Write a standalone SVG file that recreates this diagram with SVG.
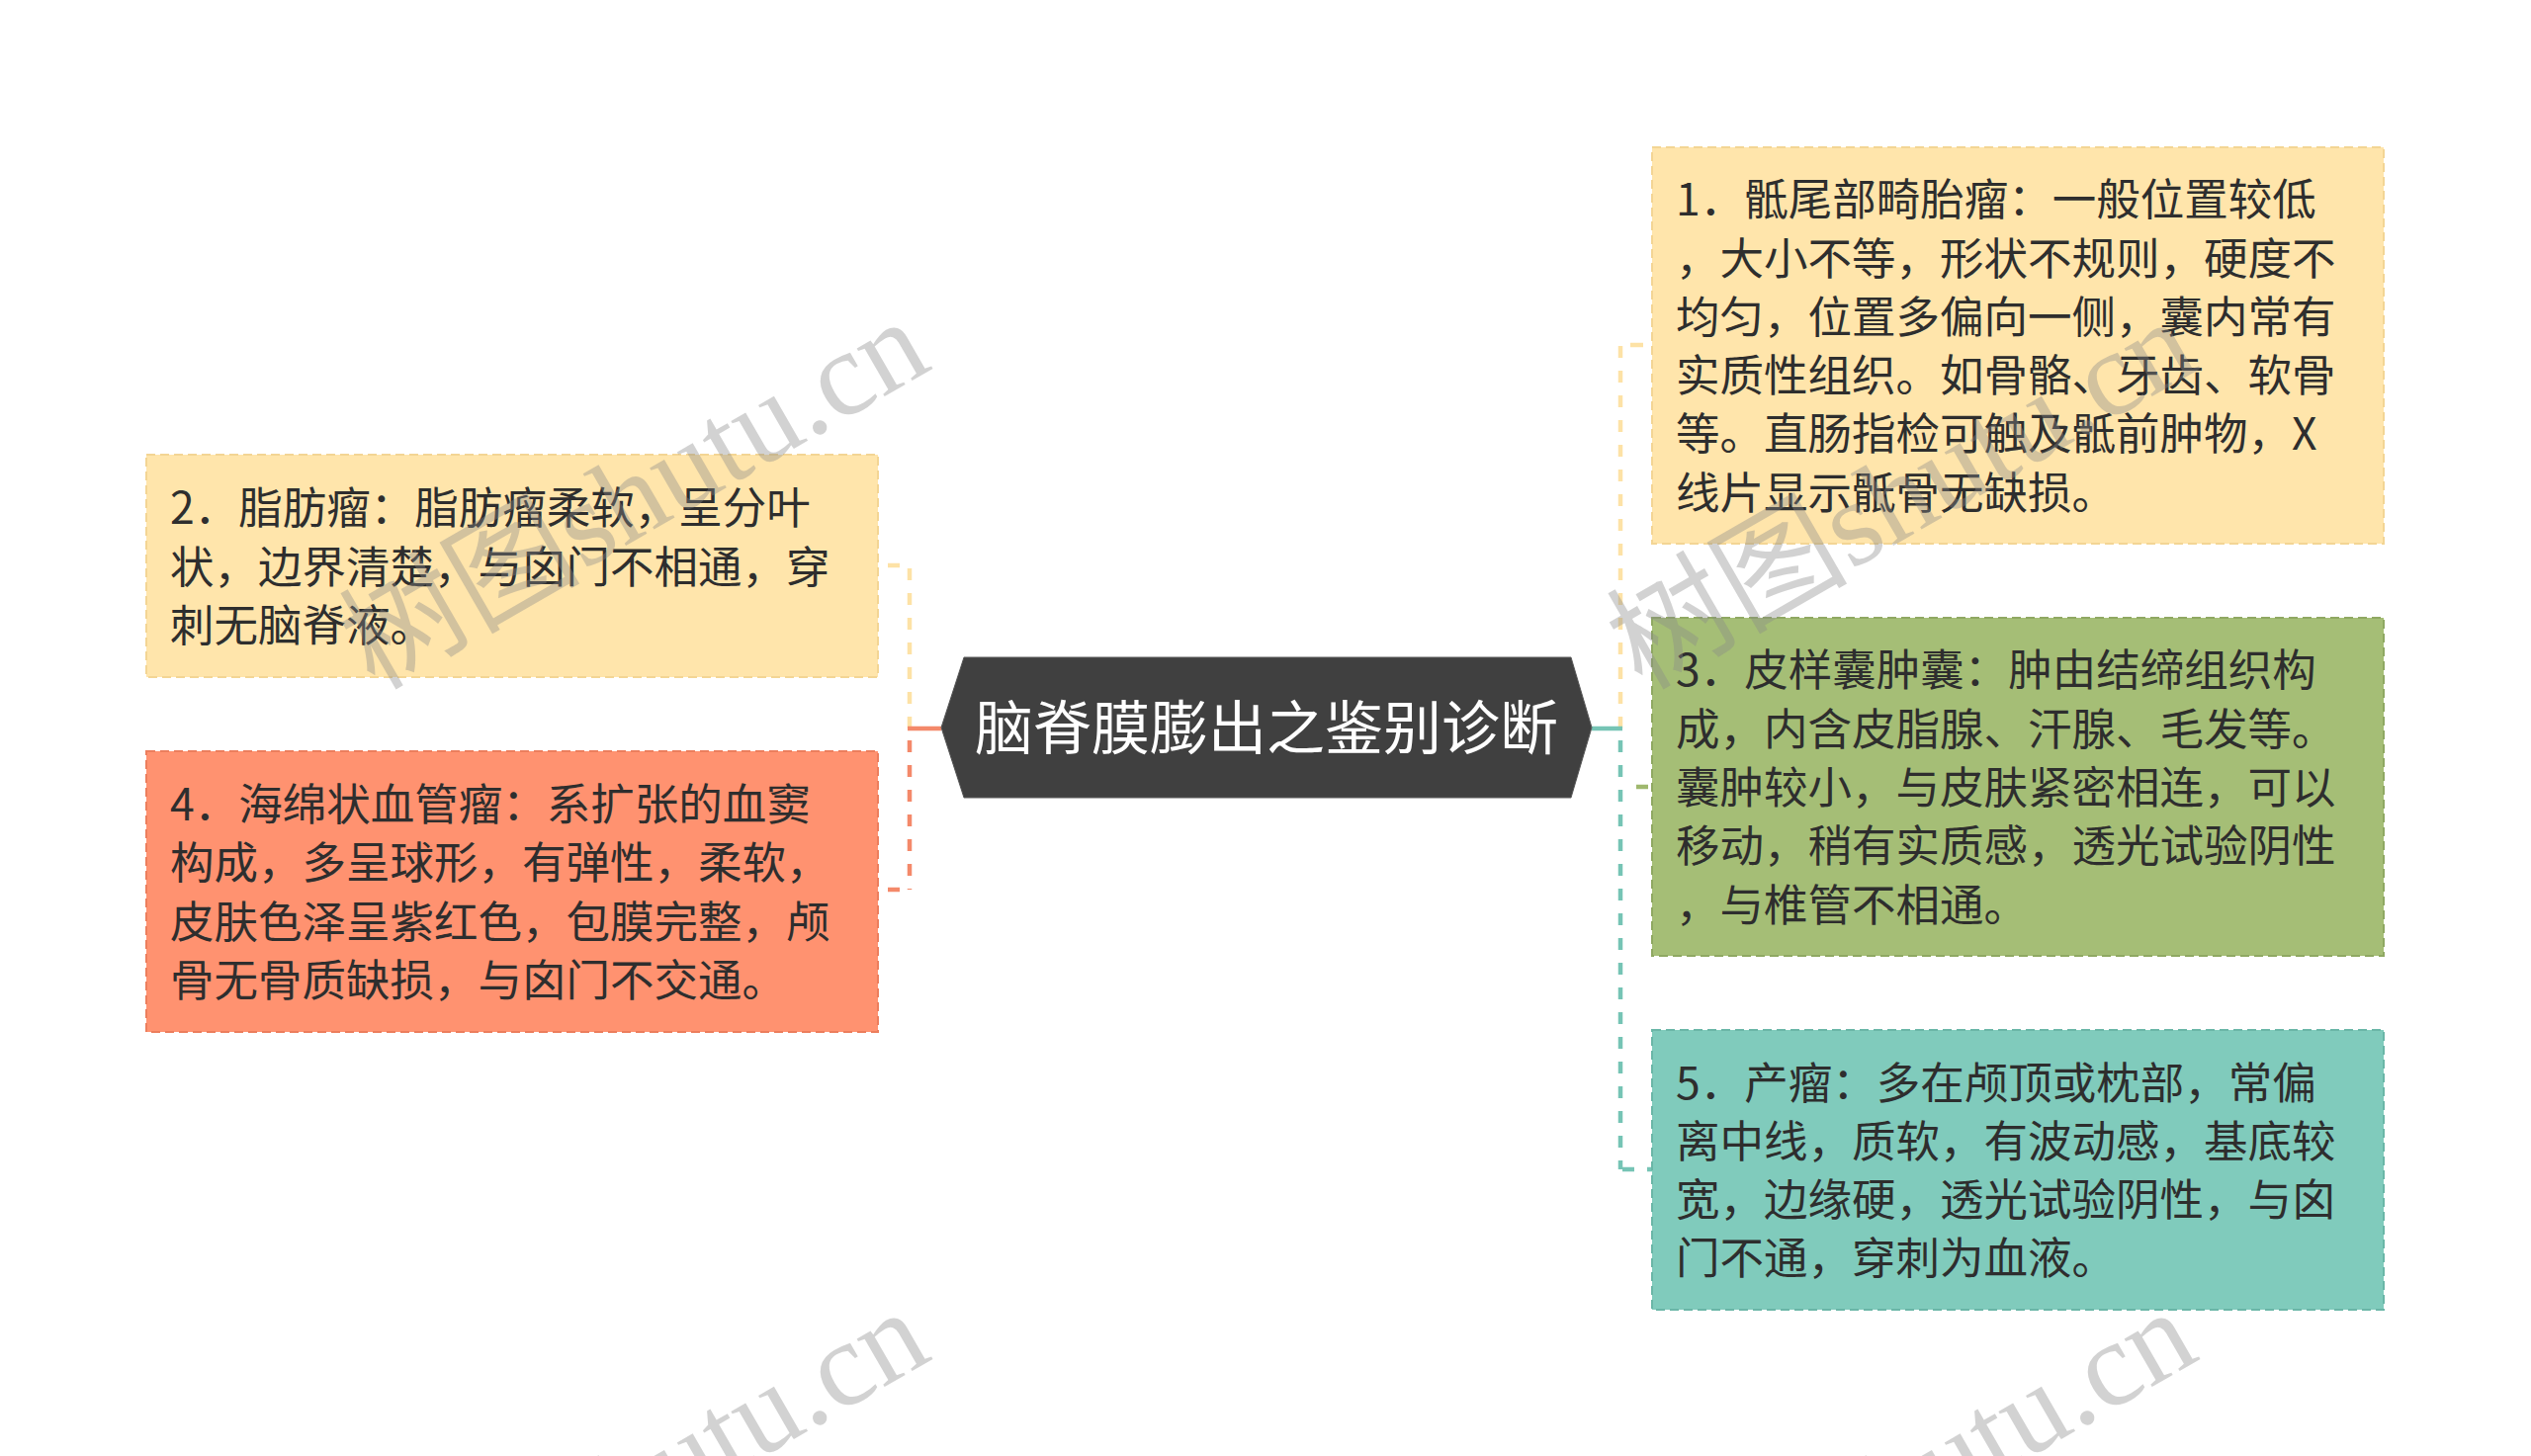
<svg xmlns="http://www.w3.org/2000/svg" width="2560" height="1473" viewBox="0 0 2560 1473">
<style>
.box{stroke-width:2;stroke-dasharray:9 5}
.t{font-family:"Noto Sans CJK SC","Noto Sans",sans-serif;font-size:44.5px;fill:#2e2e2e}
.ct{font-family:"Noto Sans CJK SC","Noto Sans",sans-serif;font-size:59px;fill:#ffffff}
.c{fill:none;stroke-width:4.5}
.d{stroke-dasharray:12 13}
.wm{font-family:"Liberation Serif","Noto Sans CJK SC",serif;font-size:122px;fill:#8a8a8a;fill-opacity:0.38}
</style>
<rect width="2560" height="1473" fill="#ffffff"/>
<g id="connectors">
  <!-- left -->
  <path class="c d" d="M920,737 V572" stroke="#FDE2A6"/>
  <path class="c" d="M898,572 H910" stroke="#FDE2A6"/>
  <path class="c d" d="M920,749 V900" stroke="#F4896A"/>
  <path class="c" d="M898,900 H910" stroke="#F4896A"/>
  <path class="c" d="M952,737 H918" stroke="#F4896A"/>
  <!-- right -->
  <path class="c d" d="M1639,737 V350" stroke="#FDE2A6"/>
  <path class="c" d="M1649,349 H1662" stroke="#FDE2A6"/>
  <path class="c" d="M1655,796 H1667" stroke="#9FB86E"/>
  <path class="c d" d="M1639,749 V1183" stroke="#76C4B5"/>
  <path class="c d" d="M1641,1183 H1672" stroke="#76C4B5"/>
  <path class="c" d="M1610,737 H1641" stroke="#76C4B5"/>
</g>
<g id="center">
  <polygon points="952,736 975,665 1589,665 1610,736 1589,807 975,807" fill="#404040" stroke="#5a5a5a" stroke-width="1"/>
  <text class="ct" x="1281" y="758" text-anchor="middle">脑脊膜膨出之鉴别诊断</text>
</g>
<g id="node2">
  <rect class="box" x="148" y="460" width="740" height="225" fill="#FFE5AB" stroke="#F3D594"/>
  <text class="t" x="172"><tspan x="172" y="530">2．脂肪瘤：脂肪瘤柔软，呈分叶</tspan><tspan x="172" y="589.5">状，边界清楚，与囟门不相通，穿</tspan><tspan x="172" y="649">刺无脑脊液。</tspan></text>
</g>
<g id="node4">
  <rect class="box" x="148" y="760" width="740" height="284" fill="#FF9270" stroke="#EC7E5D"/>
  <text class="t" x="172"><tspan x="172" y="830">4．海绵状血管瘤：系扩张的血窦</tspan><tspan x="172" y="889.3">构成，多呈球形，有弹性，柔软，</tspan><tspan x="172" y="948.6">皮肤色泽呈紫红色，包膜完整，颅</tspan><tspan x="172" y="1007.9">骨无骨质缺损，与囟门不交通。</tspan></text>
</g>
<g id="node1">
  <rect class="box" x="1671" y="149" width="740" height="401" fill="#FFE5AB" stroke="#F3D594"/>
  <text class="t" x="1695"><tspan x="1695" y="218.2">1．骶尾部畸胎瘤：一般位置较低</tspan><tspan x="1695" y="277.5">，大小不等，形状不规则，硬度不</tspan><tspan x="1695" y="336.8">均匀，位置多偏向一侧，囊内常有</tspan><tspan x="1695" y="396.1">实质性组织。如骨骼、牙齿、软骨</tspan><tspan x="1695" y="455.4">等。直肠指检可触及骶前肿物，X</tspan><tspan x="1695" y="514.7">线片显示骶骨无缺损。</tspan></text>
</g>
<g id="node3">
  <rect class="box" x="1671" y="625" width="740" height="342" fill="#A5BE76" stroke="#8FA862"/>
  <text class="t" x="1695"><tspan x="1695" y="694.4">3．皮样囊肿囊：肿由结缔组织构</tspan><tspan x="1695" y="753.7">成，内含皮脂腺、汗腺、毛发等。</tspan><tspan x="1695" y="813">囊肿较小，与皮肤紧密相连，可以</tspan><tspan x="1695" y="872.3">移动，稍有实质感，透光试验阴性</tspan><tspan x="1695" y="931.6">，与椎管不相通。</tspan></text>
</g>
<g id="node5">
  <rect class="box" x="1671" y="1042" width="740" height="283" fill="#80CBBC" stroke="#6AB6A7"/>
  <text class="t" x="1695"><tspan x="1695" y="1111.5">5．产瘤：多在颅顶或枕部，常偏</tspan><tspan x="1695" y="1170.8">离中线，质软，有波动感，基底较</tspan><tspan x="1695" y="1230.1">宽，边缘硬，透光试验阴性，与囟</tspan><tspan x="1695" y="1289.4">门不通，穿刺为血液。</tspan></text>
</g>
<g id="watermarks">
  <text class="wm" text-anchor="end" transform="translate(945,372) rotate(-30)">树图shutu.cn</text>
  <text class="wm" text-anchor="end" transform="translate(2227,372) rotate(-30)">树图shutu.cn</text>
  <text class="wm" text-anchor="end" transform="translate(945,1374) rotate(-30)">树图shutu.cn</text>
  <text class="wm" text-anchor="end" transform="translate(2227,1374) rotate(-30)">树图shutu.cn</text>
</g>
</svg>
